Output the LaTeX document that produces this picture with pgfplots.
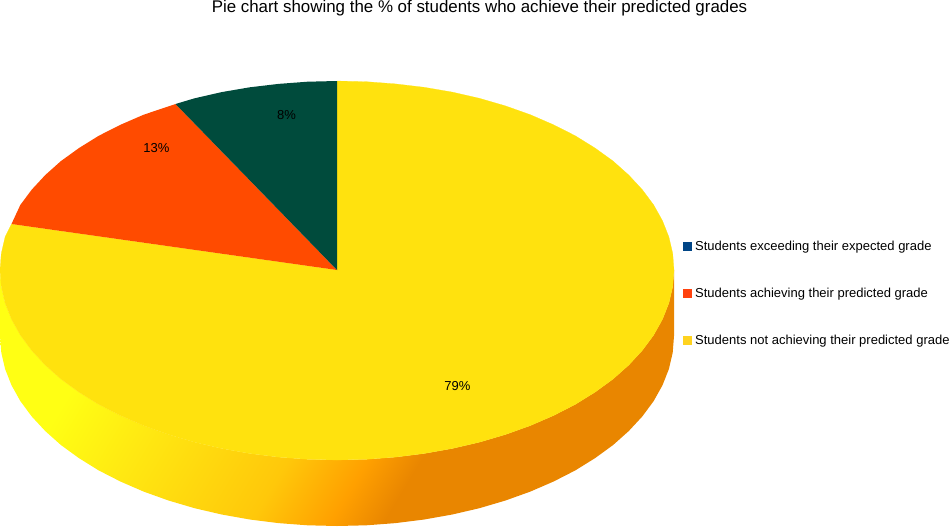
\documentclass[border=0pt]{standalone}
\usepackage{pgfplots}
\pgfplotsset{compat=1.18}
\usepackage{fontspec}
\setmainfont{Liberation Sans}
\definecolor{topy}{HTML}{FFE20E}
\definecolor{topr}{HTML}{FF4B00}
\definecolor{topg}{HTML}{004B3C}
\definecolor{lega}{HTML}{004586}
\definecolor{legb}{HTML}{FF420E}
\definecolor{legc}{HTML}{FFD320}
\pgfdeclarehorizontalshading{sideshade}{100bp}{%
  rgb(0bp)=(1,1,0.078); rgb(27.5bp)=(1,1,0.078); rgb(36bp)=(1,0.91,0.07);
  rgb(49bp)=(1,0.784,0.04); rgb(55.7bp)=(1,0.627,0); rgb(60.1bp)=(0.914,0.525,0); rgb(100bp)=(0.914,0.525,0)}
\begin{document}
\begin{tikzpicture}
\useasboundingbox (0pt,0pt) rectangle (949pt,527pt);
\begin{axis}[
  at={(0pt,0pt)}, anchor=south west,
  scale only axis, width=949pt, height=527pt,
  xmin=0, xmax=949, ymin=0, ymax=527, y dir=reverse,
  hide axis, clip=false,
  legend style={draw=none, fill=none, at={(axis cs:683,293.7)}, anchor=west, inner sep=0pt, outer sep=0pt,
    row sep=32pt, font=\fontsize{13}{15}\selectfont, /tikz/every even column/.append style={column sep=4pt}},
  legend cell align=left,
  legend image code/.code={\fill[#1, draw=none] (0pt,-4.5pt) rectangle (9pt,4.5pt); \path (10pt,0pt);},
]
% side wall of the disc
\addplot[shade, shading=sideshade, shading angle=-31, draw=none, forget plot] coordinates {
(674,270) (672.7,286.6) (668.9,303) (662.5,319.2) (653.7,335) (642.4,350.3) (628.8,365) (613.1,379) (595.1,392.1)
(575.3,404.4) (553.6,415.5) (530.3,425.6) (505.5,434.5) (479.4,442.2) (452.3,448.5) (424.2,453.5) (395.5,457.1)
(366.4,459.3) (337,460) (307.6,459.3) (278.5,457.1) (249.8,453.5) (221.7,448.5) (194.6,442.2) (168.5,434.5)
(143.7,425.6) (120.4,415.5) (98.7,404.4) (78.9,392.1) (60.9,379) (45.2,365) (31.6,350.3) (20.3,335) (11.5,319.2)
(5.1,303) (1.3,286.6) (0,270) (0,336) (1.3,352.6) (5.1,369) (11.5,385.2) (20.3,401) (31.6,416.3) (45.2,431)
(60.9,445) (78.9,458.1) (98.7,470.4) (120.4,481.5) (143.7,491.6) (168.5,500.5) (194.6,508.2) (221.7,514.5)
(249.8,519.5) (278.5,523.1) (307.6,525.3) (337,526) (366.4,525.3) (395.5,523.1) (424.2,519.5) (452.3,514.5)
(479.4,508.2) (505.5,500.5) (530.3,491.6) (553.6,481.5) (575.3,470.4) (595.1,458.1) (613.1,445) (628.8,431)
(642.4,416.3) (653.7,401) (662.5,385.2) (668.9,369) (672.7,352.6) (674,336) (674,270)
};
% top face, yellow slice 79 %
\addplot[fill=topy, draw=topy, line width=0.2pt, forget plot] coordinates {
(337,270) (337,81) (366.4,81.7) (395.5,83.9) (424.2,87.3) (452.3,92.1) (479.4,98.3) (505.5,105.9) (530.3,114.7)
(553.6,124.8) (575.3,135.8) (595.1,148.1) (613.1,161.1) (628.8,175.1) (642.4,189.8) (653.7,205) (662.5,220.8)
(668.9,237) (672.7,253.4) (674,270) (672.7,286.6) (668.9,303) (662.5,319.2) (653.7,335) (642.4,350.3) (628.8,365)
(613.1,379) (595.1,392.1) (575.3,404.4) (553.6,415.5) (530.3,425.6) (505.5,434.5) (479.4,442.2) (452.3,448.5)
(424.2,453.5) (395.5,457.1) (366.4,459.3) (337,460) (307.6,459.3) (278.5,457.1) (249.8,453.5) (221.7,448.5)
(194.6,442.2) (168.5,434.5) (143.7,425.6) (120.4,415.5) (98.7,404.4) (78.9,392.1) (60.9,379) (45.2,365)
(31.6,350.3) (20.3,335) (11.5,319.2) (5.1,303) (1.3,286.6) (0,270) (1.3,253.4) (5.1,237) (11.5,224) (337,270)
};
% top face, red slice 13 %
\addplot[fill=topr, draw=none, forget plot] coordinates {
(337,270) (11.5,224) (20.3,205) (31.6,189.8) (45.2,175.1) (60.9,161.1) (78.9,148.1) (98.7,135.8) (120.4,124.8)
(143.7,114.7) (175.5,104) (337,270)
};
% top face, green slice 8 %
\addplot[fill=topg, draw=none, forget plot] coordinates {
(337,270) (175.5,104) (194.6,98.3) (221.7,92.1) (249.8,87.3) (278.5,83.9) (307.6,81.7) (337,81) (337,270)
};
\addlegendimage{fill=lega}\addlegendentry{Students exceeding their expected grade}
\addlegendimage{fill=legb}\addlegendentry{Students achieving their predicted grade}
\addlegendimage{fill=legc}\addlegendentry{Students not achieving their predicted grade}
\node[font=\fontsize{13}{15}\selectfont] at (axis cs:286.5,115) {8\%};
\node[font=\fontsize{13}{15}\selectfont] at (axis cs:156.5,148) {13\%};
\node[font=\fontsize{13}{15}\selectfont] at (axis cs:457.5,386) {79\%};
\node[font=\fontsize{16.9}{19}\selectfont] at (axis cs:479.5,8) {Pie chart showing the \% of students who achieve their predicted grades};
\end{axis}
\end{tikzpicture}
\end{document}
